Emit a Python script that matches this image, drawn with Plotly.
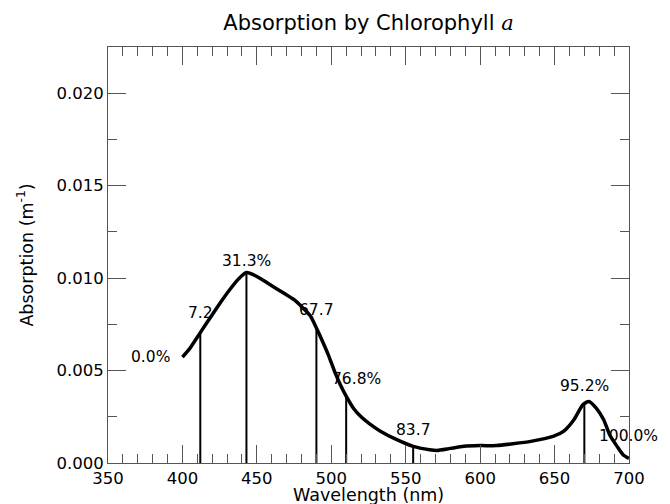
import numpy as np
import plotly.graph_objects as go

# Absorption curve of chlorophyll a (wavelength nm, absorption m^-1)
wavelength = [400, 405, 412, 419, 425, 432, 438, 443, 450, 459, 468, 475, 481,
              486, 490, 494, 498, 502, 506, 510, 515, 520, 526, 533, 544, 555,
              566, 571, 580, 589, 600, 611, 622, 634, 649, 656, 663, 669, 673,
              678, 683, 687, 692, 696, 700]
absorption = [5.73, 6.2, 7.05, 7.9, 8.62, 9.4, 9.98, 10.3, 10.09, 9.64, 9.19,
              8.83, 8.38, 7.95, 7.3, 6.6, 5.85, 5.0, 4.25, 3.62, 2.95, 2.5,
              2.1, 1.72, 1.26, 0.90, 0.72, 0.68, 0.79, 0.90, 0.94, 0.94, 1.04,
              1.17, 1.44, 1.71, 2.34, 3.15, 3.33, 2.97, 2.34, 1.53, 0.90, 0.45,
              0.25]
absorption = [v * 1e-3 for v in absorption]

# Cumulative-percentage markers
marker_wl = [412, 443, 490, 510, 555, 670]

# Labels: (wavelength anchor, text)
label_wl = [400, 412, 443, 490, 510, 555, 670, 700]
label_text = ["0.0%", "7.2", "31.3%", "67.7", "76.8%", "83.7", "95.2%", "100.0%"]

x_ticks = [350, 400, 450, 500, 550, 600, 650, 700]
y_ticks = [0.0, 0.005, 0.010, 0.015, 0.020]

FONT = "DejaVu Sans"
AXC = "#555555"

fig = go.Figure()

marker_h = np.interp(marker_wl, wavelength, absorption)
for xw, h in zip(marker_wl, marker_h):
    fig.add_trace(go.Scatter(x=[xw, xw], y=[0, h], mode="lines",
                             line=dict(color="black", width=2),
                             showlegend=False, hoverinfo="skip"))

fig.add_trace(go.Scatter(x=wavelength, y=absorption, mode="lines",
                         line=dict(color="black", width=3.5, shape="spline",
                                   smoothing=0.6),
                         showlegend=False))

# label offsets in pixels (layout only)
offsets = {
    "0.0%": (-10, 0, "right"),
    "7.2": (0, 20, "center"),
    "31.3%": (0, 12, "center"),
    "67.7": (0, 18, "center"),
    "76.8%": (10, 17, "center"),
    "83.7": (0, 16, "center"),
    "95.2%": (0, 18, "center"),
    "100.0%": (-1, 22, "center"),
}
label_y = np.interp(label_wl, wavelength, absorption)
for xw, yv, t in zip(label_wl, label_y, label_text):
    dx, dy, anc = offsets[t]
    fig.add_annotation(x=xw, y=yv, text=t, showarrow=False,
                       xanchor=anc, yanchor="middle", xshift=dx, yshift=dy,
                       font=dict(family=FONT, size=15.5, color="black"))

# x-axis title placed below the tick labels
fig.add_annotation(x=0.5, y=0, xref="paper", yref="paper",
                   text="Wavelength (nm)", showarrow=False,
                   xanchor="center", yanchor="top", yshift=-20,
                   font=dict(family=FONT, size=17.5, color="black"))

axis_common = dict(
    ticks="inside", ticklen=18, tickwidth=1, tickcolor=AXC,
    showline=True, linecolor=AXC, linewidth=1, mirror="ticks",
    showgrid=False, zeroline=False, automargin=False,
    tickfont=dict(family=FONT, size=16.5, color="black"),
)

fig.update_layout(
    width=670, height=504,
    margin=dict(l=108, r=41, t=47, b=41),
    paper_bgcolor="white", plot_bgcolor="white",
    title=dict(
        text="Absorption by Chlorophyll <i><span style=\"font-family:'DejaVu Serif'\">a</span></i>",
        font=dict(family=FONT, size=21, color="black"),
        x=0.5, xref="paper", xanchor="center",
        y=1 - 23 / 504, yref="container", yanchor="middle",
    ),
    xaxis=dict(
        range=[350, 700], tickvals=x_ticks,
        minor=dict(dtick=10, tick0=350, ticks="inside", ticklen=9,
                   tickwidth=1, tickcolor=AXC, showgrid=False),
        **axis_common,
    ),
    yaxis=dict(
        range=[0, 0.0225], tickvals=y_ticks, tickformat=".3f",
        minor=dict(dtick=0.0025, tick0=0, ticks="inside", ticklen=9,
                   tickwidth=1, tickcolor=AXC, showgrid=False),
        title=dict(text="Absorption (m<sup>-1</sup>)",
                   font=dict(family=FONT, size=17.5, color="black"),
                   standoff=18),
        **axis_common,
    ),
)

fig.write_html("out.html")
